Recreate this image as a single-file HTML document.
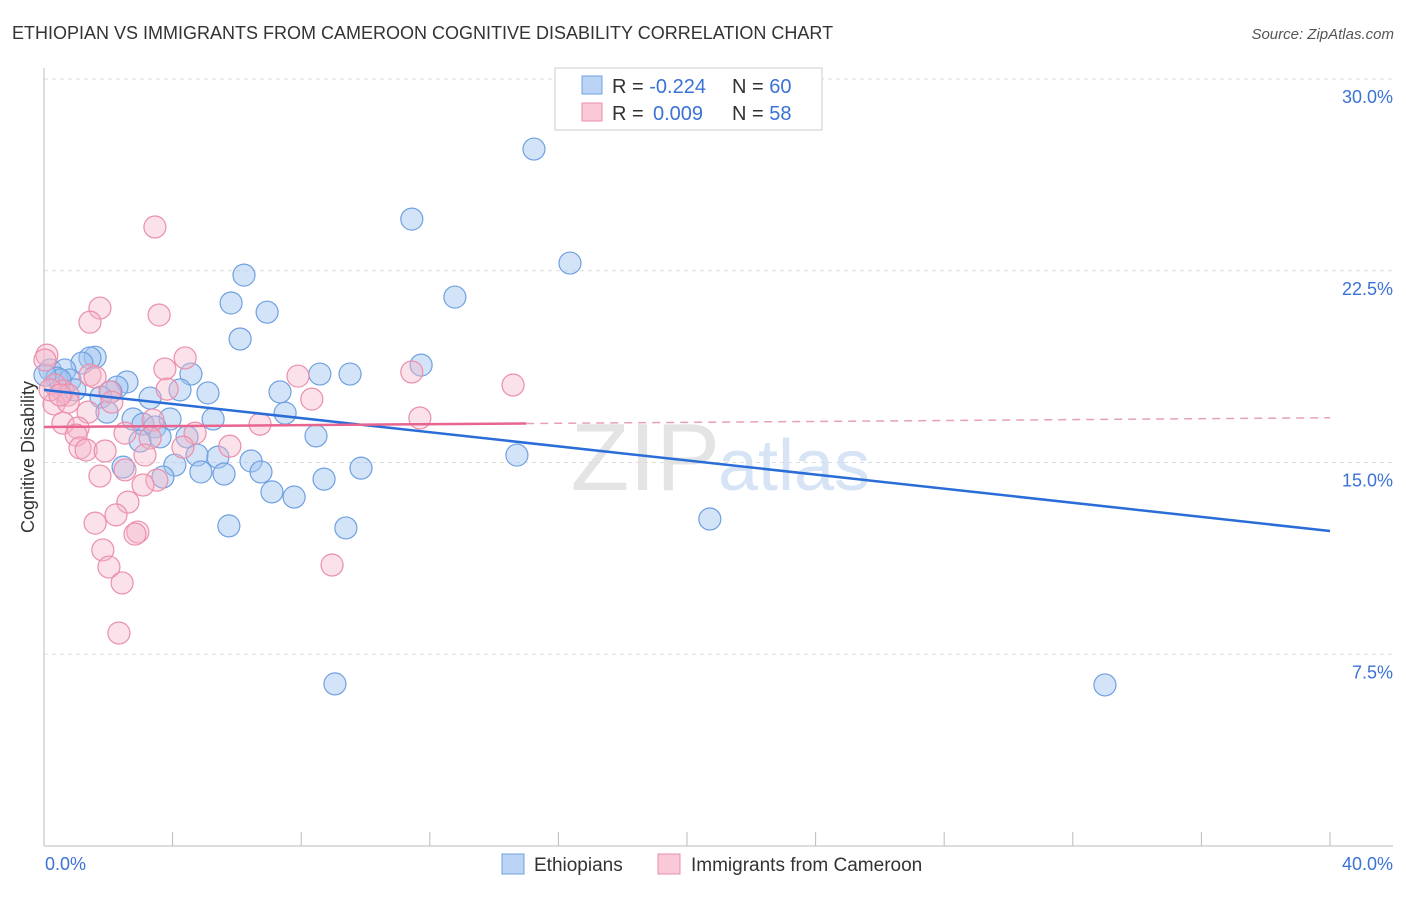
<!DOCTYPE html>
<html><head><meta charset="utf-8"><style>
body{margin:0;background:#fff;font-family:"Liberation Sans",sans-serif;}
svg text{font-family:"Liberation Sans",sans-serif;}
</style></head><body>
<svg width="1406" height="892" xmlns="http://www.w3.org/2000/svg" id="chart">
<text x="12" y="39" font-size="18" fill="#333">ETHIOPIAN VS IMMIGRANTS FROM CAMEROON COGNITIVE DISABILITY CORRELATION CHART</text>
<text x="1394" y="39" font-size="15" fill="#555" font-style="italic" text-anchor="end">Source: ZipAtlas.com</text>
<text x="720" y="490" font-size="96" fill="#e4e4e4" text-anchor="end" font-family="Liberation Serif">ZIP</text>
<text x="718" y="490" font-size="72" fill="#d6e4f5">atlas</text>
<g id="grid"></g>
<line x1="44" y1="68" x2="44" y2="846" stroke="#bbb"/>
<line x1="44" y1="846" x2="1393" y2="846" stroke="#bbb"/>
<text transform="translate(34,457) rotate(-90)" font-size="18" fill="#333" text-anchor="middle">Cognitive Disability</text>
<text x="45" y="870" font-size="18" fill="#3b72d6">0.0%</text>
<text x="1393" y="870" font-size="18" fill="#3b72d6" text-anchor="end">40.0%</text>
<g id="pts"></g>
<g id="lines"></g>
<g>
<rect x="555" y="68" width="267" height="62" fill="#fff" stroke="#ccc"/>
<rect x="582" y="76" width="20" height="18" fill="#bcd4f4" stroke="#6fa0e0"/>
<rect x="582" y="103" width="20" height="18" fill="#f9c9d7" stroke="#eb8fac"/>
<text x="612" y="93" font-size="20" fill="#333">R = <tspan fill="#3b72d6">-0.224</tspan></text>
<text x="732" y="93" font-size="20" fill="#333">N = <tspan fill="#3b72d6">60</tspan></text>
<text x="612" y="120" font-size="20" fill="#333">R =  <tspan fill="#3b72d6" x="653">0.009</tspan></text>
<text x="732" y="120" font-size="20" fill="#333">N = <tspan fill="#3b72d6">58</tspan></text>
</g>
<g>
<rect x="502" y="854" width="22" height="20" fill="#bcd4f4" stroke="#6fa0e0"/>
<text x="534" y="871" font-size="19" fill="#333">Ethiopians</text>
<rect x="658" y="854" width="22" height="20" fill="#f9c9d7" stroke="#eb8fac"/>
<text x="691" y="871" font-size="19" fill="#333">Immigrants from Cameroon</text>
</g>
</svg>
<script>
const yTicks=[7.5,15,22.5,30];
const yTickLabels=["7.5%","15.0%","22.5%","30.0%"];
const xTicks=[0,4,8,12,16,20,24,28,32,36,40];
const blueX=[15.24,11.44,16.36,6.22,12.78,5.82,6.94,6.10,1.59,1.43,1.18,11.73,0.19,0.65,0.40,0.81,8.58,9.52,4.57,2.58,2.27,0.96,2.08,4.23,5.10,1.77,7.34,3.30,1.96,7.50,2.77,3.92,3.08,5.26,3.45,8.46,4.45,2.99,3.61,14.71,4.76,5.41,6.44,4.07,2.46,4.88,5.60,6.75,9.86,3.70,8.71,7.09,7.78,20.71,5.75,9.39,9.05,33.00,0.50,0.03];
const blueY=[27.26,24.52,22.80,22.33,21.47,21.24,20.88,19.83,19.12,19.09,18.89,18.81,18.62,18.62,18.30,18.23,18.46,18.46,18.46,18.15,17.95,17.84,17.76,17.84,17.72,17.56,17.76,17.52,16.97,16.93,16.70,16.70,16.50,16.70,16.39,16.04,16.00,15.84,16.00,15.29,15.29,15.21,15.06,14.90,14.82,14.63,14.55,14.63,14.78,14.43,14.35,13.85,13.65,12.79,12.52,12.44,6.34,6.30,18.23,18.42];
const pinkX=[3.45,1.74,1.43,3.58,0.09,4.39,3.76,7.90,11.44,14.59,1.43,1.59,0.34,0.59,0.75,2.05,3.83,2.11,0.31,0.75,8.33,1.37,11.69,3.39,6.72,0.59,1.06,2.52,1.00,4.70,3.30,4.32,1.12,1.31,1.90,5.78,3.14,1.74,2.52,3.51,3.08,2.61,2.24,1.59,2.92,2.83,1.83,8.96,2.02,2.43,2.33,0.19,0.50,0.03];
const pinkY=[24.21,21.04,20.49,20.77,19.20,19.09,18.66,18.38,18.54,18.03,18.42,18.34,18.03,17.80,17.64,17.76,17.87,17.36,17.29,17.36,17.48,16.97,16.74,16.66,16.50,16.54,16.35,16.15,16.07,16.15,15.96,15.60,15.57,15.49,15.45,15.64,15.29,14.47,14.71,14.31,14.12,13.45,12.95,12.63,12.28,12.20,11.58,10.99,10.91,10.29,8.33,17.84,17.64,19.01];
const blueTrend=[17.84,12.32];   // y at x=0 and x=40
const pinkTrend=[16.39,16.75];
const pinkSolidEnd=15;
const NS="http://www.w3.org/2000/svg";
const X=v=>44+v/40*1286;
const Y=v=>846-v/30*767;
function mk(t,a,p){const e=document.createElementNS(NS,t);for(const k in a)e.setAttribute(k,a[k]);p.appendChild(e);return e;}
const grid=document.getElementById('grid');
yTicks.forEach((t,i)=>{
 const l=mk('line',{x1:44,x2:1393,y1:Y(t),y2:Y(t),stroke:'#ddd','stroke-dasharray':'4,4'},grid);
 
 
 const tx=mk('text',{x:1393,y:Y(t)+24,'font-size':18,fill:'#3b72d6','text-anchor':'end'},grid);
 tx.textContent=yTickLabels[i];
 
 
});
xTicks.forEach(t=>{
 const l=mk('line',{x1:X(t),x2:X(t),y1:832,y2:846,stroke:'#bbb'},grid);
 
 
});
const pts=document.getElementById('pts');
blueX.forEach((x,i)=>{
 const c=mk('circle',{cx:X(x),cy:Y(blueY[i]),r:11,fill:'rgba(160,196,240,0.45)',stroke:'#6fa0e0','stroke-width':1.2},pts);
 
 
});
pinkX.forEach((x,i)=>{
 const c=mk('circle',{cx:X(x),cy:Y(pinkY[i]),r:11,fill:'rgba(245,180,200,0.4)',stroke:'#eb8fac','stroke-width':1.2},pts);
 
 
});
const lines=document.getElementById('lines');
const pAt=x=>pinkTrend[0]+(pinkTrend[1]-pinkTrend[0])*x/40;
const b=mk('line',{x1:X(0),y1:Y(blueTrend[0]),x2:X(40),y2:Y(blueTrend[1]),stroke:'#2a6dd8','stroke-width':2.5},lines);


const p1=mk('line',{x1:X(0),y1:Y(pAt(0)),x2:X(pinkSolidEnd),y2:Y(pAt(pinkSolidEnd)),stroke:'#e8658f','stroke-width':2.5},lines);


const p2=mk('line',{x1:X(pinkSolidEnd),y1:Y(pAt(pinkSolidEnd)),x2:X(40),y2:Y(pAt(40)),stroke:'#e8a0b8','stroke-width':1.5,'stroke-dasharray':'8,6'},lines);


</script>
</body></html>
